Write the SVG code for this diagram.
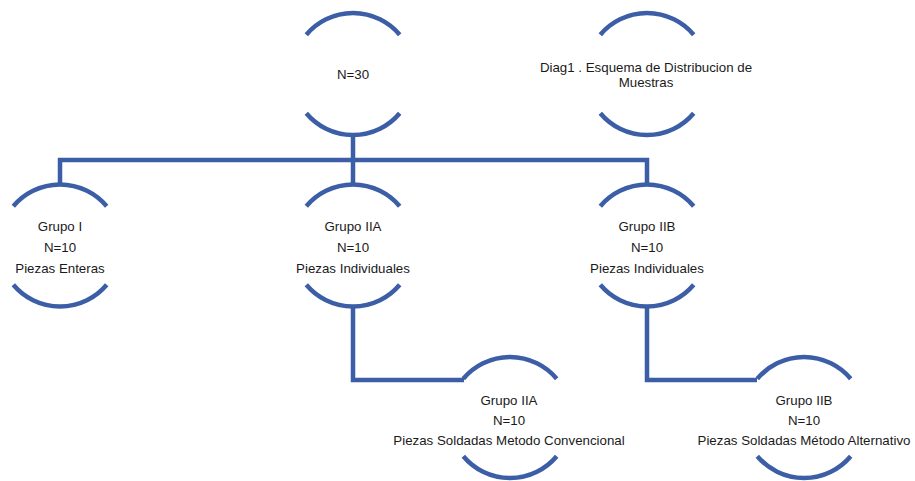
<svg xmlns="http://www.w3.org/2000/svg" width="915" height="481" viewBox="0 0 915 481">
<style>
.arc{fill:none;stroke:#3B5EA6;stroke-width:4.5;}
.conn{fill:none;stroke:#3B5EA6;stroke-width:4.5;stroke-linejoin:miter;}
text{font-family:"Liberation Sans",Arial,sans-serif;font-size:13.3px;fill:#1a1a1a;text-anchor:middle;}
</style>
<rect width="915" height="481" fill="#ffffff"/>
<g id="connectors">
<path class="conn" d="M353 134 V185 M60 185 V160 H647 V185"/>
<path class="conn" d="M353 305 V380 H464"/>
<path class="conn" d="M647 305 V380 H757"/>
</g>
<g id="n30">
<path class="arc" d="M306.3 34.8 A61 61 0 0 1 399.7 34.8 M306.3 113.2 A61 61 0 0 0 399.7 113.2"/>
<text x="353" y="79">N=30</text>
</g>
<g id="diag1">
<path class="arc" d="M600.3 34.8 A61 61 0 0 1 693.7 34.8 M600.3 113.2 A61 61 0 0 0 693.7 113.2"/>
<text x="646" y="71.5">Diag1 . Esquema de Distribucion de</text>
<text x="646" y="86.5">Muestras</text>
</g>
<g id="grupo-i">
<path class="arc" d="M13.3 206.3 A61 61 0 0 1 106.7 206.3 M13.3 284.7 A61 61 0 0 0 106.7 284.7"/>
<text x="60" y="231">Grupo I</text>
<text x="60" y="252">N=10</text>
<text x="60" y="273">Piezas Enteras</text>
</g>
<g id="grupo-iia">
<path class="arc" d="M306.3 206.3 A61 61 0 0 1 399.7 206.3 M306.3 284.7 A61 61 0 0 0 399.7 284.7"/>
<text x="353" y="231">Grupo IIA</text>
<text x="353" y="252">N=10</text>
<text x="353" y="273">Piezas Individuales</text>
</g>
<g id="grupo-iib">
<path class="arc" d="M600.3 206.3 A61 61 0 0 1 693.7 206.3 M600.3 284.7 A61 61 0 0 0 693.7 284.7"/>
<text x="647" y="231">Grupo IIB</text>
<text x="647" y="252">N=10</text>
<text x="647" y="273">Piezas Individuales</text>
</g>
<g id="grupo-iia-soldadas">
<path class="arc" d="M463.3 378.8 A61 61 0 0 1 556.7 378.8 M463.3 456.2 A61 61 0 0 0 556.7 456.2"/>
<text x="509" y="405">Grupo IIA</text>
<text x="509" y="425">N=10</text>
<text x="509" y="445">Piezas Soldadas Metodo Convencional</text>
</g>
<g id="grupo-iib-soldadas">
<path class="arc" d="M757.3 378.8 A61 61 0 0 1 850.7 378.8 M757.3 456.2 A61 61 0 0 0 850.7 456.2"/>
<text x="804" y="405">Grupo IIB</text>
<text x="804" y="425">N=10</text>
<text x="804" y="445">Piezas Soldadas Método Alternativo</text>
</g>
</svg>
